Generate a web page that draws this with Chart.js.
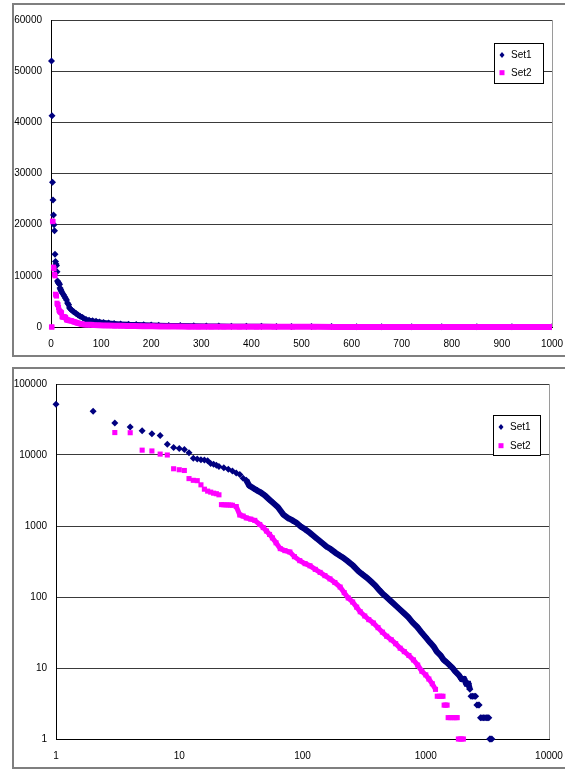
<!DOCTYPE html>
<html>
<head>
<meta charset="utf-8">
<script src="https://cdn.jsdelivr.net/npm/chart.js@4"></script>
<style>
  html, body { margin: 0; padding: 0; background: #fff; overflow: hidden; }
  .frame { position: absolute; left: 12px; width: 570px; border: 2px solid #7f7f7f; box-sizing: border-box; background: #fff; }
  #f1 { top: 3px; height: 354px; }
  #f2 { top: 367px; height: 402px; }
  canvas { display: block; }
</style>
</head>
<body>
<div class="frame" id="f1"><canvas id="linChart" width="566" height="350"></canvas></div>
<div class="frame" id="f2"><canvas id="logChart" width="566" height="398"></canvas></div>
<script>
// ========= Data (rank -> value) =========
const seriesNames = ["Set1", "Set2"];

const set1Ranks = [1, 2, 3, 4, 5, 6, 7, 8, 9, 10, 11, 12, 13, 14, 15, 16, 17, 18, 19, 20,
  21, 23, 25, 27, 29, 31, 33, 35, 37, 40, 43, 46, 50, 54, 58, 63, 70, 76, 83, 90,
  97, 105, 115, 126, 139, 155, 170, 185, 200, 215, 235, 258, 285, 310, 335, 360, 390, 420, 450, 480,
  520, 560, 610, 660, 720, 780, 850, 920, 1000, 1080, 1160, 1230, 1320, 1400, 1480, 1560, 1650, 1730, 1850, 1950,
  2050, 2130, 2220, 2280, 2330, 2400, 2470, 2540, 2600, 2660, 2710, 2780, 2860, 2940, 3020, 3100, 3180, 3250,
  3300, 3370, 3440];
const set1Values = [52000, 41300, 28300, 24800, 21900, 20000, 18800, 14200, 12800, 12300, 12000, 10800, 9000, 8800, 8600, 8500, 8300, 7600, 7400, 7200,
  6900, 6600, 6300, 5950, 5600, 5300, 4700, 4400, 3700, 3400, 3150, 2950, 2650, 2350, 2100, 1850, 1450, 1300, 1200, 1100,
  980, 900, 800, 700, 610, 520, 470, 420, 385, 355, 315, 275, 230, 205, 185, 165, 145, 125, 110, 100,
  88, 78, 68, 60, 52, 44, 38, 32, 27, 23, 20, 17, 15, 13, 12, 11, 10, 9, 8, 7,
  7, 6, 6, 5, 4, 4, 4, 4, 3, 3, 3, 2, 2, 2, 2, 2, 2, 2,
  1, 1, 1];

const set2Ranks = [1, 2, 3, 4, 5, 6, 7, 8, 9, 10, 11, 12, 13, 14, 15, 16, 17, 18, 19, 20,
  21, 22, 23, 24, 25, 26, 27, 29, 31, 33, 35, 38, 41, 45, 48, 51, 54, 57, 61, 66,
  72, 79, 86, 95, 105, 115, 127, 139, 152, 167, 183, 202, 218, 235, 255, 275, 294, 320, 345, 376,
  410, 445, 482, 525, 570, 620, 670, 730, 795, 860, 930, 1000, 1060, 1130, 1200,
  1240, 1290, 1340, 1380, 1410, 1450, 1490, 1520, 1580, 1640, 1700, 1760, 1800, 1840, 1900, 1960, 2020];
const set2Values = [0, 0, 20700, 20600, 11700, 11400, 10300, 10000, 6400, 6200, 6050, 4650, 4400, 4350, 3800, 3300, 3100, 3000, 2900, 2850,
  2750, 2000, 1990, 1980, 1980, 1970, 1960, 1880, 1430, 1380, 1300, 1250, 1200, 1050, 950, 850, 760, 680, 580, 480,
  450, 430, 370, 325, 295, 275, 245, 222, 200, 180, 160, 138, 115, 97, 85, 72, 62, 54, 48, 43,
  37, 32, 28, 25, 22, 19, 17, 15, 13, 11, 9, 8, 7, 6, 5,
  4, 4, 4, 4, 3, 3, 3, 2, 2, 2, 2, 2, 2, 1, 1, 1, 1];

const linXTicks = [0, 100, 200, 300, 400, 500, 600, 700, 800, 900, 1000];
const linYTicks = [0, 10000, 20000, 30000, 40000, 50000, 60000];
const logXTicks = [1, 10, 100, 1000, 10000];
const logYTicks = [1, 10, 100, 1000, 10000, 100000];

const colors = ["#000080", "#ff00ff"];

// ========= Helpers =========
function toPoints(ranks, values) {
  return ranks.map((r, i) => ({ x: r, y: values[i] }));
}

// join the dense part of a series into a band, keep the sparse head and tail as marks
function bandSegment(points, minRank, color) {
  return {
    borderColor: ctx => {
      const a = points[ctx.p0DataIndex], b = points[ctx.p1DataIndex];
      return (a.x >= minRank && b.y >= 5) ? color : "transparent";
    }
  };
}

function makeDatasets(p1, p2, w1, w2) {
  return [
    {
      label: seriesNames[0], data: p1, order: 2,
      showLine: true, borderWidth: w1, borderColor: colors[0],
      segment: bandSegment(p1, 35, colors[0]),
      pointStyle: "rectRot", pointRadius: 3.5,
      pointBackgroundColor: colors[0], pointBorderColor: colors[0], pointBorderWidth: 0,
      clip: { left: 8, top: 8, right: 0, bottom: 8 }
    },
    {
      label: seriesNames[1], data: p2, order: 1,
      showLine: true, borderWidth: w2, borderColor: colors[1],
      segment: bandSegment(p2, 29, colors[1]),
      pointStyle: "rect", pointRadius: 3.6,
      pointBackgroundColor: colors[1], pointBorderColor: colors[1], pointBorderWidth: 0,
      clip: { left: 8, top: 8, right: 0, bottom: 8 }
    }
  ];
}

// ========= Legend box + right plot border =========
const boxLegend = {
  id: "boxLegend",
  afterDraw(chart, args, opts) {
    const ctx = chart.ctx;
    const area = chart.chartArea;
    ctx.save();
    // grey right edge of the plot area
    ctx.strokeStyle = "#9a9a9a";
    ctx.lineWidth = 1;
    ctx.beginPath();
    ctx.moveTo(Math.round(area.right) + 0.5, area.top);
    ctx.lineTo(Math.round(area.right) + 0.5, area.bottom);
    ctx.stroke();

    ctx.fillStyle = "#fff";
    ctx.fillRect(opts.x, opts.y, opts.w, opts.h);
    ctx.strokeStyle = "#000";
    ctx.strokeRect(opts.x + 0.5, opts.y + 0.5, opts.w, opts.h);
    ctx.font = "10px 'Liberation Sans', Arial, sans-serif";
    ctx.textBaseline = "middle";
    chart.data.datasets.forEach((ds, i) => {
      const cy = opts.y + opts.first + i * opts.step;
      const mx = opts.x + 8;
      ctx.fillStyle = ds.pointBackgroundColor;
      if (ds.pointStyle === "rectRot") {
        ctx.beginPath();
        ctx.moveTo(mx, cy - 3); ctx.lineTo(mx + 2.5, cy); ctx.lineTo(mx, cy + 3); ctx.lineTo(mx - 2.5, cy);
        ctx.closePath(); ctx.fill();
      } else {
        ctx.fillRect(mx - 2.5, cy - 2.5, 5, 5);
      }
      ctx.fillStyle = "#000";
      ctx.fillText(ds.label, opts.x + 17, cy + 0.5);
    });
    ctx.restore();
  }
};

function axis(type, tickList, fitSize, isX, min, max) {
  const s = {
    type: type, min: min, max: max,
    afterBuildTicks: scale => { scale.ticks = tickList.map(v => ({ value: v })); },
    ticks: {
      autoSkip: false, maxRotation: 0, color: "#000",
      font: { family: "'Liberation Sans', Arial, sans-serif", size: 10 },
      padding: isX ? 11 : 9,
      callback: v => String(v)
    },
    border: { display: true, color: "#000", width: 1 },
    afterFit: scale => { if (isX) scale.height = fitSize; else scale.width = fitSize; }
  };
  if (isX) {
    s.grid = { drawOnChartArea: false, drawTicks: false };
  } else {
    s.grid = { color: "#3a3a3a", lineWidth: 1, drawTicks: false };
  }
  return s;
}

// ========= Linear chart =========
const linCtx = document.getElementById("linChart").getContext("2d");
new Chart(linCtx, {
  type: "scatter",
  data: {
    datasets: makeDatasets(toPoints(set1Ranks, set1Values), toPoints(set2Ranks, set2Values), 5, 6)
  },
  options: {
    responsive: false, animation: false, devicePixelRatio: 1,
    layout: { padding: { top: 10, right: 28, left: 0, bottom: 0 } },
    scales: {
      x: axis("linear", linXTicks, 28, true, 0, 1000),
      y: axis("linear", linYTicks, 37, false, 0, 60000)
    },
    plugins: {
      legend: { display: false }, tooltip: { enabled: false },
      boxLegend: { x: 480, y: 38, w: 49, h: 40, first: 12, step: 17.7 }
    }
  },
  plugins: [boxLegend]
});

// ========= Log-log chart =========
const logCtx = document.getElementById("logChart").getContext("2d");
new Chart(logCtx, {
  type: "scatter",
  data: {
    datasets: makeDatasets(
      toPoints(set1Ranks, set1Values).filter(p => p.y > 0),
      toPoints(set2Ranks, set2Values).filter(p => p.y > 0), 6, 5)
  },
  options: {
    responsive: false, animation: false, devicePixelRatio: 1,
    layout: { padding: { top: 10, right: 31, left: 0, bottom: 0 } },
    scales: {
      x: axis("logarithmic", logXTicks, 28, true, 1, 10000),
      y: axis("logarithmic", logYTicks, 42, false, 1, 100000)
    },
    plugins: {
      legend: { display: false }, tooltip: { enabled: false },
      boxLegend: { x: 479, y: 46, w: 47, h: 40, first: 12, step: 18.7 }
    }
  },
  plugins: [boxLegend]
});
</script>
</body>
</html>
